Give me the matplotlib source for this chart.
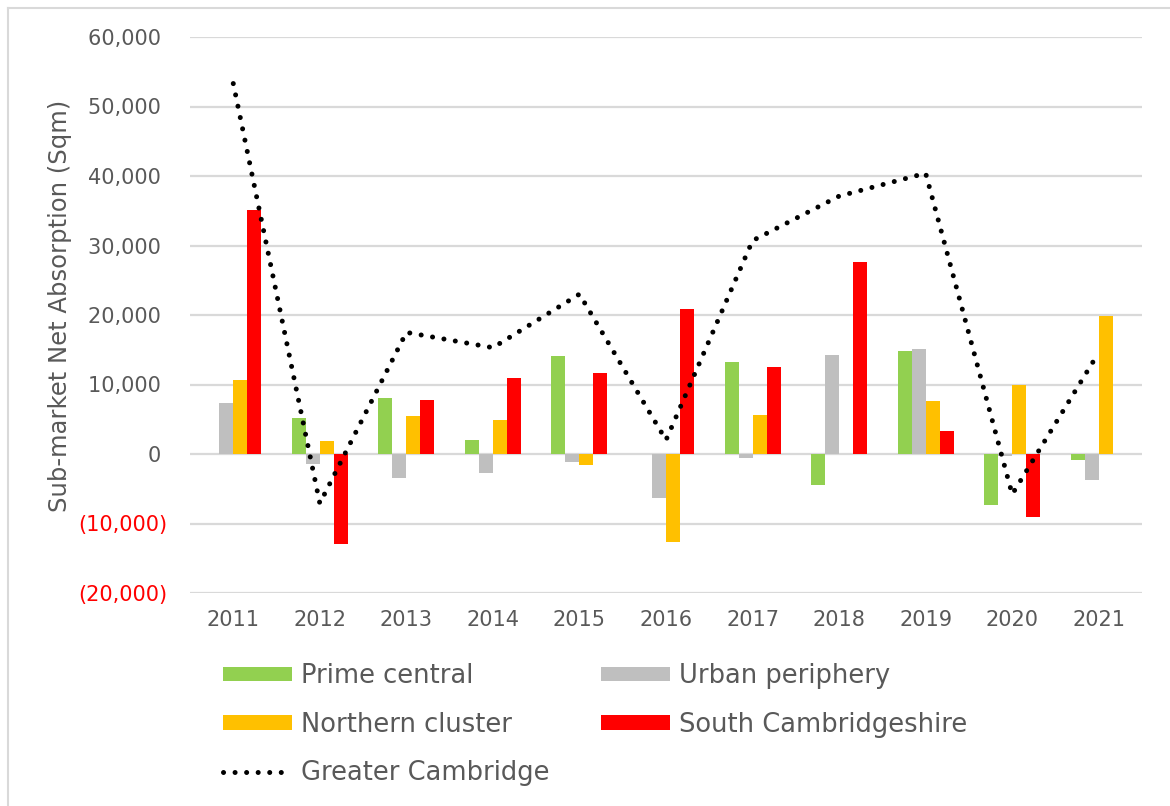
import numpy as np
import matplotlib
matplotlib.use('Agg')
import matplotlib.pyplot as plt
from matplotlib.patches import Patch
from matplotlib.lines import Line2D

# ---- data ----
years = ['2011', '2012', '2013', '2014', '2015', '2016', '2017', '2018', '2019', '2020', '2021']
prime_central = [0, 5200, 8000, 2000, 14100, 0, 13300, -4500, 14800, -7300, -900]
urban_periphery = [7400, -1500, -3500, -2800, -1200, -6400, -600, 14300, 15100, -300, -3800]
northern_cluster = [10700, 1900, 5400, 4900, -1600, -12700, 5600, 0, 7600, 10000, 19900]
south_cambs = [35100, -13000, 7700, 10900, 11600, 20800, 12500, 27600, 3300, -9100, 0]
greater_cambridge = [53300, -7100, 17500, 15300, 23000, 2000, 30700, 37100, 40400, -5800, 14600]

series_names = ['Prime central', 'Urban periphery', 'Northern cluster', 'South Cambridgeshire']
line_name = 'Greater Cambridge'
ytick_values = [60000, 50000, 40000, 30000, 20000, 10000, 0, -10000, -20000]
ytick_labels = ['60,000 ', '50,000 ', '40,000 ', '30,000 ', '20,000 ', '10,000 ', '0 ', '(10,000)', '(20,000)']
ylabel = 'Sub-market Net Absorption (Sqm)'

colors = ['#92D050', '#BFBFBF', '#FFC000', '#FF0000']
text_col = '#595959'
grid_col = '#D9D9D9'

plt.rcParams['font.family'] = ['DejaVu Sans']

W, H = 1170, 806
fig = plt.figure(figsize=(W / 100, H / 100), dpi=100)
ax = fig.add_axes([190 / W, 1 - 593 / H, 952 / W, 556 / H])

x = np.arange(len(years))
bw = 0.162
all_series = [prime_central, urban_periphery, northern_cluster, south_cambs]
for i, (vals, c) in enumerate(zip(all_series, colors)):
    ax.bar(x + (i - 1.5) * bw, vals, width=bw, color=c, zorder=2)

dot_style = (0, (0.01, 2.3))
ax.plot(x, greater_cambridge, color='black', lw=3.6, linestyle=dot_style,
        dash_capstyle='round', zorder=3)

ax.set_xlim(-0.5, len(years) - 0.5)
ax.set_ylim(-20000, 60000)
ax.set_xticks(x)
ax.set_xticklabels(years)
ax.set_yticks(ytick_values)
ax.set_yticklabels(ytick_labels)
for lab, v in zip(ax.get_yticklabels(), ytick_values):
    lab.set_color('#FF0000' if v < 0 else text_col)
ax.tick_params(axis='both', length=0, labelsize=15)
ax.tick_params(axis='x', colors=text_col, pad=12)
ax.tick_params(axis='y', pad=16)
ax.grid(axis='y', color=grid_col, lw=1.6, zorder=0)
ax.set_axisbelow(True)
for s in ax.spines.values():
    s.set_visible(False)

fig.text(60 / W, 1 - 306 / H, ylabel, rotation=90, ha='center', va='center',
         fontsize=17.5, color=text_col)

# legend, two columns
handles = [Patch(facecolor=c, edgecolor='none') for c in colors]
line_handle = Line2D([], [], color='black', lw=3.6, linestyle=dot_style, dash_capstyle='round')
leg_kw = dict(frameon=False, fontsize=18.5, handlelength=2.7, handleheight=0.5,
              handletextpad=0.32, labelspacing=0.88, borderpad=0, borderaxespad=0,
              labelcolor=text_col, loc='upper left')
fig.legend([handles[0], handles[2], line_handle],
           [series_names[0], series_names[2], line_name],
           bbox_to_anchor=(223 / W, 1 - 663 / H), **leg_kw)
fig.legend([handles[1], handles[3]], [series_names[1], series_names[3]],
           bbox_to_anchor=(601 / W, 1 - 663 / H), **leg_kw)

# light frame of the chart area (top and left edges visible)
fig.add_artist(Line2D([8 / W, 1], [1 - 8 / H, 1 - 8 / H], color=grid_col, lw=1.5))
fig.add_artist(Line2D([8 / W, 8 / W], [0, 1 - 8 / H], color=grid_col, lw=1.5))

plt.savefig('out.png', dpi=100)
